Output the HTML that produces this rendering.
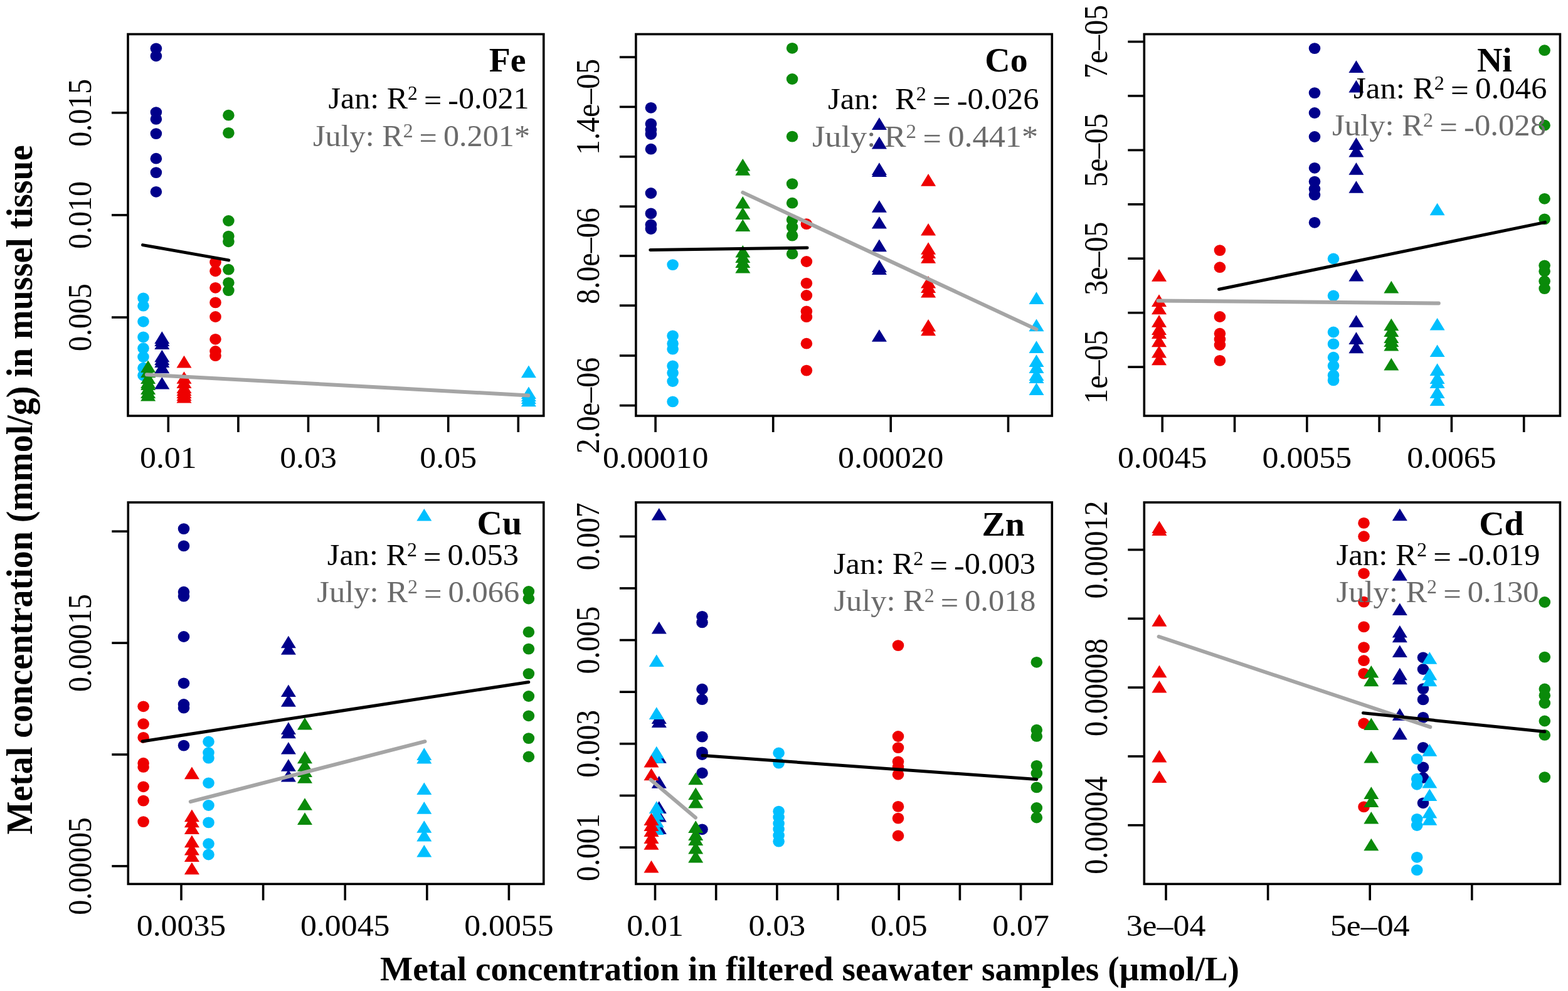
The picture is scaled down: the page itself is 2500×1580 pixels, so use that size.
<!DOCTYPE html>
<html><head><meta charset="utf-8"><title>Metal concentration plots</title><style>html,body{margin:0;padding:0;background:#fff;}svg{display:block;}text{font-family:"Liberation Serif", "Times New Roman", serif;font-kerning:none;font-feature-settings:"kern" 0,"liga" 0;}</style></head><body>
<svg width="2500" height="1580" viewBox="0 0 2500 1580">
<rect x="0" y="0" width="2500" height="1580" fill="#fff"/>
<ellipse cx="248.9" cy="77.3" rx="9.3" ry="8.9" fill="#00008B"/>
<ellipse cx="248.9" cy="89.3" rx="9.3" ry="8.9" fill="#00008B"/>
<ellipse cx="248.9" cy="179.1" rx="9.3" ry="8.9" fill="#00008B"/>
<ellipse cx="248.9" cy="189.9" rx="9.3" ry="8.9" fill="#00008B"/>
<ellipse cx="248.9" cy="213.1" rx="9.3" ry="8.9" fill="#00008B"/>
<ellipse cx="248.9" cy="252.7" rx="9.3" ry="8.9" fill="#00008B"/>
<ellipse cx="248.9" cy="275.1" rx="9.3" ry="8.9" fill="#00008B"/>
<ellipse cx="248.9" cy="305.8" rx="9.3" ry="8.9" fill="#00008B"/>
<ellipse cx="364.4" cy="183.7" rx="9.3" ry="8.9" fill="#0A8A0A"/>
<ellipse cx="364.4" cy="211.9" rx="9.3" ry="8.9" fill="#0A8A0A"/>
<ellipse cx="364.4" cy="352" rx="9.3" ry="8.9" fill="#0A8A0A"/>
<ellipse cx="364.4" cy="376.6" rx="9.3" ry="8.9" fill="#0A8A0A"/>
<ellipse cx="364.4" cy="385.3" rx="9.3" ry="8.9" fill="#0A8A0A"/>
<ellipse cx="364.4" cy="429.7" rx="9.3" ry="8.9" fill="#0A8A0A"/>
<ellipse cx="364.4" cy="450.8" rx="9.3" ry="8.9" fill="#0A8A0A"/>
<ellipse cx="364.4" cy="463.1" rx="9.3" ry="8.9" fill="#0A8A0A"/>
<ellipse cx="343.5" cy="418.1" rx="9.3" ry="8.9" fill="#EE0000"/>
<ellipse cx="343.5" cy="432.3" rx="9.3" ry="8.9" fill="#EE0000"/>
<ellipse cx="343.5" cy="458.8" rx="9.3" ry="8.9" fill="#EE0000"/>
<ellipse cx="343.5" cy="482.4" rx="9.3" ry="8.9" fill="#EE0000"/>
<ellipse cx="343.5" cy="505" rx="9.3" ry="8.9" fill="#EE0000"/>
<ellipse cx="343.5" cy="540.8" rx="9.3" ry="8.9" fill="#EE0000"/>
<ellipse cx="343.5" cy="560" rx="9.3" ry="8.9" fill="#EE0000"/>
<ellipse cx="343.5" cy="567.2" rx="9.3" ry="8.9" fill="#EE0000"/>
<ellipse cx="228.5" cy="475.4" rx="9.3" ry="8.9" fill="#00BFFF"/>
<ellipse cx="228.5" cy="487.7" rx="9.3" ry="8.9" fill="#00BFFF"/>
<ellipse cx="228.5" cy="512.8" rx="9.3" ry="8.9" fill="#00BFFF"/>
<ellipse cx="228.5" cy="537.4" rx="9.3" ry="8.9" fill="#00BFFF"/>
<ellipse cx="228.5" cy="555.2" rx="9.3" ry="8.9" fill="#00BFFF"/>
<ellipse cx="228.5" cy="569" rx="9.3" ry="8.9" fill="#00BFFF"/>
<ellipse cx="228.5" cy="586.7" rx="9.3" ry="8.9" fill="#00BFFF"/>
<ellipse cx="228.5" cy="598.5" rx="9.3" ry="8.9" fill="#00BFFF"/>
<polygon points="258.3,528.3 270.3,547.9 246.3,547.9" fill="#00008B"/>
<polygon points="258.3,532.3 270.3,551.9 246.3,551.9" fill="#00008B"/>
<polygon points="258.3,537.3 270.3,556.9 246.3,556.9" fill="#00008B"/>
<polygon points="258.3,557.7 270.3,577.3 246.3,577.3" fill="#00008B"/>
<polygon points="258.3,562.3 270.3,581.9 246.3,581.9" fill="#00008B"/>
<polygon points="258.3,566.3 270.3,585.9 246.3,585.9" fill="#00008B"/>
<polygon points="258.3,575.7 270.3,595.3 246.3,595.3" fill="#00008B"/>
<polygon points="258.3,601 270.3,620.6 246.3,620.6" fill="#00008B"/>
<polygon points="236.1,574.5 248.1,594.1 224.1,594.1" fill="#0A8A0A"/>
<polygon points="236.1,582.3 248.1,601.9 224.1,601.9" fill="#0A8A0A"/>
<polygon points="236.1,592.3 248.1,611.9 224.1,611.9" fill="#0A8A0A"/>
<polygon points="236.1,599.3 248.1,618.9 224.1,618.9" fill="#0A8A0A"/>
<polygon points="236.1,602.3 248.1,621.9 224.1,621.9" fill="#0A8A0A"/>
<polygon points="236.1,609.3 248.1,628.9 224.1,628.9" fill="#0A8A0A"/>
<polygon points="236.1,615.3 248.1,634.9 224.1,634.9" fill="#0A8A0A"/>
<polygon points="236.1,620 248.1,639.6 224.1,639.6" fill="#0A8A0A"/>
<polygon points="293.5,566.8 305.5,586.4 281.5,586.4" fill="#EE0000"/>
<polygon points="293.5,592.2 305.5,611.8 281.5,611.8" fill="#EE0000"/>
<polygon points="293.5,599.3 305.5,618.9 281.5,618.9" fill="#EE0000"/>
<polygon points="293.5,607.3 305.5,626.9 281.5,626.9" fill="#EE0000"/>
<polygon points="293.5,611.3 305.5,630.9 281.5,630.9" fill="#EE0000"/>
<polygon points="293.5,615.3 305.5,634.9 281.5,634.9" fill="#EE0000"/>
<polygon points="293.5,619.3 305.5,638.9 281.5,638.9" fill="#EE0000"/>
<polygon points="293.5,623 305.5,642.6 281.5,642.6" fill="#EE0000"/>
<polygon points="842.9,582.6 854.9,602.2 830.9,602.2" fill="#00BFFF"/>
<polygon points="842.9,616.5 854.9,636.1 830.9,636.1" fill="#00BFFF"/>
<polygon points="842.9,620.3 854.9,639.9 830.9,639.9" fill="#00BFFF"/>
<polygon points="842.9,624.3 854.9,643.9 830.9,643.9" fill="#00BFFF"/>
<polygon points="842.9,628.7 854.9,648.3 830.9,648.3" fill="#00BFFF"/>
<line x1="227.5" y1="390.6" x2="364.8" y2="414.9" stroke="#000" stroke-width="5.0" stroke-linecap="round"/>
<line x1="234" y1="597.3" x2="842.3" y2="630.5" stroke="#A5A5A5" stroke-width="6.0" stroke-linecap="round"/>
<rect x="204" y="54.5" width="662.8" height="608.5" fill="none" stroke="#000" stroke-width="3.6"/>
<line x1="178" y1="506" x2="204" y2="506" stroke="#000" stroke-width="3.6"/>
<text transform="translate(145,506) scale(1.08,1) rotate(-90)" text-anchor="middle" font-size="48">0.005</text>
<line x1="178" y1="342.9" x2="204" y2="342.9" stroke="#000" stroke-width="3.6"/>
<text transform="translate(145,342.9) scale(1.08,1) rotate(-90)" text-anchor="middle" font-size="48">0.010</text>
<line x1="178" y1="179.8" x2="204" y2="179.8" stroke="#000" stroke-width="3.6"/>
<text transform="translate(145,179.8) scale(1.08,1) rotate(-90)" text-anchor="middle" font-size="48">0.015</text>
<line x1="268.3" y1="663" x2="268.3" y2="689" stroke="#000" stroke-width="3.6"/>
<text transform="translate(268.3,746) scale(1.08,1)" text-anchor="middle" font-size="48">0.01</text>
<line x1="379.9" y1="663" x2="379.9" y2="689" stroke="#000" stroke-width="3.6"/>
<line x1="491.5" y1="663" x2="491.5" y2="689" stroke="#000" stroke-width="3.6"/>
<text transform="translate(491.5,746) scale(1.08,1)" text-anchor="middle" font-size="48">0.03</text>
<line x1="603.1" y1="663" x2="603.1" y2="689" stroke="#000" stroke-width="3.6"/>
<line x1="714.7" y1="663" x2="714.7" y2="689" stroke="#000" stroke-width="3.6"/>
<text transform="translate(714.7,746) scale(1.08,1)" text-anchor="middle" font-size="48">0.05</text>
<line x1="826.3" y1="663" x2="826.3" y2="689" stroke="#000" stroke-width="3.6"/>
<text transform="translate(838.6,113.7) scale(1.035,1)" text-anchor="end" font-weight="bold" font-size="54">Fe</text>
<text transform="translate(843.5,173.2)" text-anchor="end" textLength="320" lengthAdjust="spacingAndGlyphs" font-size="49" fill="#000">Jan: R<tspan font-size="31" dy="-14">2</tspan><tspan dy="17"> =</tspan><tspan dy="-3"> <tspan dy="3">-</tspan><tspan dy="-3">0.021</tspan></tspan></text>
<text transform="translate(845,232.8)" text-anchor="end" textLength="346" lengthAdjust="spacingAndGlyphs" font-size="49" fill="#6B6B6B">July: R<tspan font-size="31" dy="-14">2</tspan><tspan dy="17"> =</tspan><tspan dy="-3"> 0.201*</tspan></text>
<ellipse cx="1037.9" cy="171.8" rx="9.3" ry="8.9" fill="#00008B"/>
<ellipse cx="1037.9" cy="197.5" rx="9.3" ry="8.9" fill="#00008B"/>
<ellipse cx="1037.9" cy="207" rx="9.3" ry="8.9" fill="#00008B"/>
<ellipse cx="1037.9" cy="214" rx="9.3" ry="8.9" fill="#00008B"/>
<ellipse cx="1037.9" cy="237.7" rx="9.3" ry="8.9" fill="#00008B"/>
<ellipse cx="1037.9" cy="308" rx="9.3" ry="8.9" fill="#00008B"/>
<ellipse cx="1037.9" cy="340.4" rx="9.3" ry="8.9" fill="#00008B"/>
<ellipse cx="1037.9" cy="358.3" rx="9.3" ry="8.9" fill="#00008B"/>
<ellipse cx="1037.9" cy="365" rx="9.3" ry="8.9" fill="#00008B"/>
<ellipse cx="1263.1" cy="76.8" rx="9.3" ry="8.9" fill="#0A8A0A"/>
<ellipse cx="1263.1" cy="126" rx="9.3" ry="8.9" fill="#0A8A0A"/>
<ellipse cx="1263.1" cy="217.6" rx="9.3" ry="8.9" fill="#0A8A0A"/>
<ellipse cx="1263.1" cy="293.1" rx="9.3" ry="8.9" fill="#0A8A0A"/>
<ellipse cx="1263.1" cy="323.7" rx="9.3" ry="8.9" fill="#0A8A0A"/>
<ellipse cx="1263.1" cy="350.5" rx="9.3" ry="8.9" fill="#0A8A0A"/>
<ellipse cx="1263.1" cy="362" rx="9.3" ry="8.9" fill="#0A8A0A"/>
<ellipse cx="1263.1" cy="375.6" rx="9.3" ry="8.9" fill="#0A8A0A"/>
<ellipse cx="1263.1" cy="404.7" rx="9.3" ry="8.9" fill="#0A8A0A"/>
<ellipse cx="1285.9" cy="357.2" rx="9.3" ry="8.9" fill="#EE0000"/>
<ellipse cx="1285.9" cy="417" rx="9.3" ry="8.9" fill="#EE0000"/>
<ellipse cx="1285.9" cy="451.6" rx="9.3" ry="8.9" fill="#EE0000"/>
<ellipse cx="1285.9" cy="471" rx="9.3" ry="8.9" fill="#EE0000"/>
<ellipse cx="1285.9" cy="496.3" rx="9.3" ry="8.9" fill="#EE0000"/>
<ellipse cx="1285.9" cy="505.2" rx="9.3" ry="8.9" fill="#EE0000"/>
<ellipse cx="1285.9" cy="547.7" rx="9.3" ry="8.9" fill="#EE0000"/>
<ellipse cx="1285.9" cy="590.6" rx="9.3" ry="8.9" fill="#EE0000"/>
<ellipse cx="1072.6" cy="422.1" rx="9.3" ry="8.9" fill="#00BFFF"/>
<ellipse cx="1072.6" cy="535.4" rx="9.3" ry="8.9" fill="#00BFFF"/>
<ellipse cx="1072.6" cy="547.7" rx="9.3" ry="8.9" fill="#00BFFF"/>
<ellipse cx="1072.6" cy="556.6" rx="9.3" ry="8.9" fill="#00BFFF"/>
<ellipse cx="1072.6" cy="583.4" rx="9.3" ry="8.9" fill="#00BFFF"/>
<ellipse cx="1072.6" cy="594.6" rx="9.3" ry="8.9" fill="#00BFFF"/>
<ellipse cx="1072.6" cy="608" rx="9.3" ry="8.9" fill="#00BFFF"/>
<ellipse cx="1072.6" cy="640.4" rx="9.3" ry="8.9" fill="#00BFFF"/>
<polygon points="1401.9,187.3 1413.9,206.9 1389.9,206.9" fill="#00008B"/>
<polygon points="1401.9,217.8 1413.9,237.4 1389.9,237.4" fill="#00008B"/>
<polygon points="1401.9,259.3 1413.9,278.9 1389.9,278.9" fill="#00008B"/>
<polygon points="1401.9,262.3 1413.9,281.9 1389.9,281.9" fill="#00008B"/>
<polygon points="1401.9,319.2 1413.9,338.8 1389.9,338.8" fill="#00008B"/>
<polygon points="1401.9,344.9 1413.9,364.5 1389.9,364.5" fill="#00008B"/>
<polygon points="1401.9,381.6 1413.9,401.2 1389.9,401.2" fill="#00008B"/>
<polygon points="1401.9,414.3 1413.9,433.9 1389.9,433.9" fill="#00008B"/>
<polygon points="1401.9,418.3 1413.9,437.9 1389.9,437.9" fill="#00008B"/>
<polygon points="1401.9,525.2 1413.9,544.8 1389.9,544.8" fill="#00008B"/>
<polygon points="1184.3,252.9 1196.3,272.5 1172.3,272.5" fill="#0A8A0A"/>
<polygon points="1184.3,260.1 1196.3,279.7 1172.3,279.7" fill="#0A8A0A"/>
<polygon points="1184.3,312.9 1196.3,332.5 1172.3,332.5" fill="#0A8A0A"/>
<polygon points="1184.3,330.5 1196.3,350.1 1172.3,350.1" fill="#0A8A0A"/>
<polygon points="1184.3,349.5 1196.3,369.1 1172.3,369.1" fill="#0A8A0A"/>
<polygon points="1184.3,390.9 1196.3,410.5 1172.3,410.5" fill="#0A8A0A"/>
<polygon points="1184.3,399.3 1196.3,418.9 1172.3,418.9" fill="#0A8A0A"/>
<polygon points="1184.3,407.3 1196.3,426.9 1172.3,426.9" fill="#0A8A0A"/>
<polygon points="1184.3,415.9 1196.3,435.5 1172.3,435.5" fill="#0A8A0A"/>
<polygon points="1480.1,277.1 1492.1,296.7 1468.1,296.7" fill="#EE0000"/>
<polygon points="1480.1,355.9 1492.1,375.5 1468.1,375.5" fill="#EE0000"/>
<polygon points="1480.1,386.2 1492.1,405.8 1468.1,405.8" fill="#EE0000"/>
<polygon points="1480.1,392.3 1492.1,411.9 1468.1,411.9" fill="#EE0000"/>
<polygon points="1480.1,400.1 1492.1,419.7 1468.1,419.7" fill="#EE0000"/>
<polygon points="1480.1,440 1492.1,459.6 1468.1,459.6" fill="#EE0000"/>
<polygon points="1480.1,447.3 1492.1,466.9 1468.1,466.9" fill="#EE0000"/>
<polygon points="1480.1,455 1492.1,474.6 1468.1,474.6" fill="#EE0000"/>
<polygon points="1480.1,509 1492.1,528.6 1468.1,528.6" fill="#EE0000"/>
<polygon points="1480.1,515.7 1492.1,535.3 1468.1,535.3" fill="#EE0000"/>
<polygon points="1652.5,465.3 1664.5,484.9 1640.5,484.9" fill="#00BFFF"/>
<polygon points="1652.5,508.6 1664.5,528.2 1640.5,528.2" fill="#00BFFF"/>
<polygon points="1652.5,543.3 1664.5,562.9 1640.5,562.9" fill="#00BFFF"/>
<polygon points="1652.5,565.3 1664.5,584.9 1640.5,584.9" fill="#00BFFF"/>
<polygon points="1652.5,575.3 1664.5,594.9 1640.5,594.9" fill="#00BFFF"/>
<polygon points="1652.5,587.3 1664.5,606.9 1640.5,606.9" fill="#00BFFF"/>
<polygon points="1652.5,591.3 1664.5,610.9 1640.5,610.9" fill="#00BFFF"/>
<polygon points="1652.5,610.3 1664.5,629.9 1640.5,629.9" fill="#00BFFF"/>
<line x1="1036.8" y1="398.4" x2="1287" y2="395.1" stroke="#000" stroke-width="5.0" stroke-linecap="round"/>
<line x1="1184.3" y1="306.9" x2="1652.5" y2="525.1" stroke="#A5A5A5" stroke-width="6.0" stroke-linecap="round"/>
<rect x="1013.9" y="54.5" width="663.4" height="608.5" fill="none" stroke="#000" stroke-width="3.6"/>
<line x1="987.9" y1="91.1" x2="1013.9" y2="91.1" stroke="#000" stroke-width="3.6"/>
<line x1="987.9" y1="170.4" x2="1013.9" y2="170.4" stroke="#000" stroke-width="3.6"/>
<text transform="translate(954.9,170.4) scale(1.08,1) rotate(-90)" text-anchor="middle" font-size="48">1.4e–05</text>
<line x1="987.9" y1="249.8" x2="1013.9" y2="249.8" stroke="#000" stroke-width="3.6"/>
<line x1="987.9" y1="329.2" x2="1013.9" y2="329.2" stroke="#000" stroke-width="3.6"/>
<line x1="987.9" y1="408" x2="1013.9" y2="408" stroke="#000" stroke-width="3.6"/>
<text transform="translate(954.9,408) scale(1.08,1) rotate(-90)" text-anchor="middle" font-size="48">8.0e–06</text>
<line x1="987.9" y1="487.1" x2="1013.9" y2="487.1" stroke="#000" stroke-width="3.6"/>
<line x1="987.9" y1="567" x2="1013.9" y2="567" stroke="#000" stroke-width="3.6"/>
<line x1="987.9" y1="646.5" x2="1013.9" y2="646.5" stroke="#000" stroke-width="3.6"/>
<text transform="translate(954.9,646.5) scale(1.08,1) rotate(-90)" text-anchor="middle" font-size="48">2.0e–06</text>
<line x1="1045.1" y1="663" x2="1045.1" y2="689" stroke="#000" stroke-width="3.6"/>
<text transform="translate(1045.1,746) scale(1.08,1)" text-anchor="middle" font-size="48">0.00010</text>
<line x1="1232.7" y1="663" x2="1232.7" y2="689" stroke="#000" stroke-width="3.6"/>
<line x1="1420.2" y1="663" x2="1420.2" y2="689" stroke="#000" stroke-width="3.6"/>
<text transform="translate(1420.2,746) scale(1.08,1)" text-anchor="middle" font-size="48">0.00020</text>
<line x1="1607.5" y1="663" x2="1607.5" y2="689" stroke="#000" stroke-width="3.6"/>
<text transform="translate(1638.6,113.7) scale(1.035,1)" text-anchor="end" font-weight="bold" font-size="54">Co</text>
<text transform="translate(1656.5,174)" text-anchor="end" textLength="336.5" lengthAdjust="spacingAndGlyphs" font-size="49" fill="#000">Jan: R<tspan font-size="31" dy="-14">2</tspan><tspan dy="17"> =</tspan><tspan dy="-3"> <tspan dy="3">-</tspan><tspan dy="-3">0.026</tspan></tspan></text>
<text transform="translate(1655,233.6)" text-anchor="end" textLength="360" lengthAdjust="spacingAndGlyphs" font-size="49" fill="#6B6B6B">July: R<tspan font-size="31" dy="-14">2</tspan><tspan dy="17"> =</tspan><tspan dy="-3"> 0.441*</tspan></text>
<ellipse cx="2096" cy="77.1" rx="9.3" ry="8.9" fill="#00008B"/>
<ellipse cx="2096" cy="148.1" rx="9.3" ry="8.9" fill="#00008B"/>
<ellipse cx="2096" cy="180" rx="9.3" ry="8.9" fill="#00008B"/>
<ellipse cx="2096" cy="218" rx="9.3" ry="8.9" fill="#00008B"/>
<ellipse cx="2096" cy="267.8" rx="9.3" ry="8.9" fill="#00008B"/>
<ellipse cx="2096" cy="289.6" rx="9.3" ry="8.9" fill="#00008B"/>
<ellipse cx="2096" cy="301.2" rx="9.3" ry="8.9" fill="#00008B"/>
<ellipse cx="2096" cy="310.6" rx="9.3" ry="8.9" fill="#00008B"/>
<ellipse cx="2096" cy="354.8" rx="9.3" ry="8.9" fill="#00008B"/>
<ellipse cx="2462.6" cy="80.2" rx="9.3" ry="8.9" fill="#0A8A0A"/>
<ellipse cx="2462.6" cy="199.7" rx="9.3" ry="8.9" fill="#0A8A0A"/>
<ellipse cx="2462.6" cy="316.8" rx="9.3" ry="8.9" fill="#0A8A0A"/>
<ellipse cx="2462.6" cy="349.4" rx="9.3" ry="8.9" fill="#0A8A0A"/>
<ellipse cx="2462.6" cy="423.3" rx="9.3" ry="8.9" fill="#0A8A0A"/>
<ellipse cx="2462.6" cy="432.5" rx="9.3" ry="8.9" fill="#0A8A0A"/>
<ellipse cx="2462.6" cy="448.2" rx="9.3" ry="8.9" fill="#0A8A0A"/>
<ellipse cx="2462.6" cy="460.1" rx="9.3" ry="8.9" fill="#0A8A0A"/>
<ellipse cx="1944.9" cy="399.1" rx="9.3" ry="8.9" fill="#EE0000"/>
<ellipse cx="1944.9" cy="426.2" rx="9.3" ry="8.9" fill="#EE0000"/>
<ellipse cx="1944.9" cy="505" rx="9.3" ry="8.9" fill="#EE0000"/>
<ellipse cx="1944.9" cy="531.7" rx="9.3" ry="8.9" fill="#EE0000"/>
<ellipse cx="1944.9" cy="541" rx="9.3" ry="8.9" fill="#EE0000"/>
<ellipse cx="1944.9" cy="550" rx="9.3" ry="8.9" fill="#EE0000"/>
<ellipse cx="1944.9" cy="574.9" rx="9.3" ry="8.9" fill="#EE0000"/>
<ellipse cx="2126" cy="412.5" rx="9.3" ry="8.9" fill="#00BFFF"/>
<ellipse cx="2126" cy="471.5" rx="9.3" ry="8.9" fill="#00BFFF"/>
<ellipse cx="2126" cy="529.5" rx="9.3" ry="8.9" fill="#00BFFF"/>
<ellipse cx="2126" cy="548.4" rx="9.3" ry="8.9" fill="#00BFFF"/>
<ellipse cx="2126" cy="569.7" rx="9.3" ry="8.9" fill="#00BFFF"/>
<ellipse cx="2126" cy="583.2" rx="9.3" ry="8.9" fill="#00BFFF"/>
<ellipse cx="2126" cy="598.2" rx="9.3" ry="8.9" fill="#00BFFF"/>
<ellipse cx="2126" cy="606.4" rx="9.3" ry="8.9" fill="#00BFFF"/>
<polygon points="2162.4,96.3 2174.4,115.9 2150.4,115.9" fill="#00008B"/>
<polygon points="2162.4,127.8 2174.4,147.4 2150.4,147.4" fill="#00008B"/>
<polygon points="2162.4,219.3 2174.4,238.9 2150.4,238.9" fill="#00008B"/>
<polygon points="2162.4,230.8 2174.4,250.4 2150.4,250.4" fill="#00008B"/>
<polygon points="2162.4,259.1 2174.4,278.7 2150.4,278.7" fill="#00008B"/>
<polygon points="2162.4,288.2 2174.4,307.8 2150.4,307.8" fill="#00008B"/>
<polygon points="2162.4,428.9 2174.4,448.5 2150.4,448.5" fill="#00008B"/>
<polygon points="2162.4,502.2 2174.4,521.8 2150.4,521.8" fill="#00008B"/>
<polygon points="2162.4,529.3 2174.4,548.9 2150.4,548.9" fill="#00008B"/>
<polygon points="2162.4,543.6 2174.4,563.2 2150.4,563.2" fill="#00008B"/>
<polygon points="2218.3,447.8 2230.3,467.4 2206.3,467.4" fill="#0A8A0A"/>
<polygon points="2218.3,507.7 2230.3,527.3 2206.3,527.3" fill="#0A8A0A"/>
<polygon points="2218.3,517.3 2230.3,536.9 2206.3,536.9" fill="#0A8A0A"/>
<polygon points="2218.3,527.3 2230.3,546.9 2206.3,546.9" fill="#0A8A0A"/>
<polygon points="2218.3,533.3 2230.3,552.9 2206.3,552.9" fill="#0A8A0A"/>
<polygon points="2218.3,540 2230.3,559.6 2206.3,559.6" fill="#0A8A0A"/>
<polygon points="2218.3,570.8 2230.3,590.4 2206.3,590.4" fill="#0A8A0A"/>
<polygon points="1848,429.1 1860,448.7 1836,448.7" fill="#EE0000"/>
<polygon points="1848,469.3 1860,488.9 1836,488.9" fill="#EE0000"/>
<polygon points="1848,481.7 1860,501.3 1836,501.3" fill="#EE0000"/>
<polygon points="1848,502.1 1860,521.7 1836,521.7" fill="#EE0000"/>
<polygon points="1848,514.3 1860,533.9 1836,533.9" fill="#EE0000"/>
<polygon points="1848,520.3 1860,539.9 1836,539.9" fill="#EE0000"/>
<polygon points="1848,533.6 1860,553.2 1836,553.2" fill="#EE0000"/>
<polygon points="1848,550.9 1860,570.5 1836,570.5" fill="#EE0000"/>
<polygon points="1848,562.7 1860,582.3 1836,582.3" fill="#EE0000"/>
<polygon points="2291.6,323.7 2303.6,343.3 2279.6,343.3" fill="#00BFFF"/>
<polygon points="2291.6,506.9 2303.6,526.5 2279.6,526.5" fill="#00BFFF"/>
<polygon points="2291.6,549.5 2303.6,569.1 2279.6,569.1" fill="#00BFFF"/>
<polygon points="2291.6,579.3 2303.6,598.9 2279.6,598.9" fill="#00BFFF"/>
<polygon points="2291.6,592.3 2303.6,611.9 2279.6,611.9" fill="#00BFFF"/>
<polygon points="2291.6,599.3 2303.6,618.9 2279.6,618.9" fill="#00BFFF"/>
<polygon points="2291.6,615.3 2303.6,634.9 2279.6,634.9" fill="#00BFFF"/>
<polygon points="2291.6,627.5 2303.6,647.1 2279.6,647.1" fill="#00BFFF"/>
<line x1="1943.5" y1="461.3" x2="2463.5" y2="354.4" stroke="#000" stroke-width="5.0" stroke-linecap="round"/>
<line x1="1846.5" y1="479.4" x2="2293.8" y2="483.5" stroke="#A5A5A5" stroke-width="6.0" stroke-linecap="round"/>
<rect x="1824.3" y="54.5" width="663.1" height="608.5" fill="none" stroke="#000" stroke-width="3.6"/>
<line x1="1798.3" y1="66.5" x2="1824.3" y2="66.5" stroke="#000" stroke-width="3.6"/>
<text transform="translate(1765.3,66.5) scale(1.08,1) rotate(-90)" text-anchor="middle" font-size="48">7e–05</text>
<line x1="1798.3" y1="152.9" x2="1824.3" y2="152.9" stroke="#000" stroke-width="3.6"/>
<line x1="1798.3" y1="239.4" x2="1824.3" y2="239.4" stroke="#000" stroke-width="3.6"/>
<text transform="translate(1765.3,239.4) scale(1.08,1) rotate(-90)" text-anchor="middle" font-size="48">5e–05</text>
<line x1="1798.3" y1="325.8" x2="1824.3" y2="325.8" stroke="#000" stroke-width="3.6"/>
<line x1="1798.3" y1="412.2" x2="1824.3" y2="412.2" stroke="#000" stroke-width="3.6"/>
<text transform="translate(1765.3,412.2) scale(1.08,1) rotate(-90)" text-anchor="middle" font-size="48">3e–05</text>
<line x1="1798.3" y1="498.7" x2="1824.3" y2="498.7" stroke="#000" stroke-width="3.6"/>
<line x1="1798.3" y1="585.1" x2="1824.3" y2="585.1" stroke="#000" stroke-width="3.6"/>
<text transform="translate(1765.3,585.1) scale(1.08,1) rotate(-90)" text-anchor="middle" font-size="48">1e–05</text>
<line x1="1853.2" y1="663" x2="1853.2" y2="689" stroke="#000" stroke-width="3.6"/>
<text transform="translate(1853.2,746) scale(1.08,1)" text-anchor="middle" font-size="48">0.0045</text>
<line x1="1968.5" y1="663" x2="1968.5" y2="689" stroke="#000" stroke-width="3.6"/>
<line x1="2083.8" y1="663" x2="2083.8" y2="689" stroke="#000" stroke-width="3.6"/>
<text transform="translate(2083.8,746) scale(1.08,1)" text-anchor="middle" font-size="48">0.0055</text>
<line x1="2199.1" y1="663" x2="2199.1" y2="689" stroke="#000" stroke-width="3.6"/>
<line x1="2314.4" y1="663" x2="2314.4" y2="689" stroke="#000" stroke-width="3.6"/>
<text transform="translate(2314.4,746) scale(1.08,1)" text-anchor="middle" font-size="48">0.0065</text>
<line x1="2429.7" y1="663" x2="2429.7" y2="689" stroke="#000" stroke-width="3.6"/>
<text transform="translate(2410.8,113.7) scale(1.035,1)" text-anchor="end" font-weight="bold" font-size="54">Ni</text>
<text transform="translate(2466.5,157.2)" text-anchor="end" textLength="308.5" lengthAdjust="spacingAndGlyphs" font-size="49" fill="#000">Jan: R<tspan font-size="31" dy="-14">2</tspan><tspan dy="17"> =</tspan><tspan dy="-3"> 0.046</tspan></text>
<text transform="translate(2465,216.1)" text-anchor="end" textLength="341" lengthAdjust="spacingAndGlyphs" font-size="49" fill="#6B6B6B">July: R<tspan font-size="31" dy="-14">2</tspan><tspan dy="17"> =</tspan><tspan dy="-3"> <tspan dy="3">-</tspan><tspan dy="-3">0.028</tspan></tspan></text>
<ellipse cx="228.6" cy="1126.3" rx="9.3" ry="8.9" fill="#EE0000"/>
<ellipse cx="228.6" cy="1154.2" rx="9.3" ry="8.9" fill="#EE0000"/>
<ellipse cx="228.6" cy="1175.8" rx="9.3" ry="8.9" fill="#EE0000"/>
<ellipse cx="228.6" cy="1216.7" rx="9.3" ry="8.9" fill="#EE0000"/>
<ellipse cx="228.6" cy="1222.9" rx="9.3" ry="8.9" fill="#EE0000"/>
<ellipse cx="228.6" cy="1254.3" rx="9.3" ry="8.9" fill="#EE0000"/>
<ellipse cx="228.6" cy="1276.6" rx="9.3" ry="8.9" fill="#EE0000"/>
<ellipse cx="228.6" cy="1310.1" rx="9.3" ry="8.9" fill="#EE0000"/>
<ellipse cx="293" cy="843.1" rx="9.3" ry="8.9" fill="#00008B"/>
<ellipse cx="293" cy="870.4" rx="9.3" ry="8.9" fill="#00008B"/>
<ellipse cx="293" cy="943.7" rx="9.3" ry="8.9" fill="#00008B"/>
<ellipse cx="293" cy="950.6" rx="9.3" ry="8.9" fill="#00008B"/>
<ellipse cx="293" cy="1015" rx="9.3" ry="8.9" fill="#00008B"/>
<ellipse cx="293" cy="1089.3" rx="9.3" ry="8.9" fill="#00008B"/>
<ellipse cx="293" cy="1123" rx="9.3" ry="8.9" fill="#00008B"/>
<ellipse cx="293" cy="1128.7" rx="9.3" ry="8.9" fill="#00008B"/>
<ellipse cx="293" cy="1188.6" rx="9.3" ry="8.9" fill="#00008B"/>
<ellipse cx="332.5" cy="1182.5" rx="9.3" ry="8.9" fill="#00BFFF"/>
<ellipse cx="332.5" cy="1200" rx="9.3" ry="8.9" fill="#00BFFF"/>
<ellipse cx="332.5" cy="1208.6" rx="9.3" ry="8.9" fill="#00BFFF"/>
<ellipse cx="332.5" cy="1248.3" rx="9.3" ry="8.9" fill="#00BFFF"/>
<ellipse cx="332.5" cy="1284" rx="9.3" ry="8.9" fill="#00BFFF"/>
<ellipse cx="332.5" cy="1311.4" rx="9.3" ry="8.9" fill="#00BFFF"/>
<ellipse cx="332.5" cy="1345.2" rx="9.3" ry="8.9" fill="#00BFFF"/>
<ellipse cx="332.5" cy="1362.5" rx="9.3" ry="8.9" fill="#00BFFF"/>
<ellipse cx="842.9" cy="943" rx="9.3" ry="8.9" fill="#0A8A0A"/>
<ellipse cx="842.9" cy="954.5" rx="9.3" ry="8.9" fill="#0A8A0A"/>
<ellipse cx="842.9" cy="1007.7" rx="9.3" ry="8.9" fill="#0A8A0A"/>
<ellipse cx="842.9" cy="1034.6" rx="9.3" ry="8.9" fill="#0A8A0A"/>
<ellipse cx="842.9" cy="1074.1" rx="9.3" ry="8.9" fill="#0A8A0A"/>
<ellipse cx="842.9" cy="1110" rx="9.3" ry="8.9" fill="#0A8A0A"/>
<ellipse cx="842.9" cy="1141.3" rx="9.3" ry="8.9" fill="#0A8A0A"/>
<ellipse cx="842.9" cy="1177.1" rx="9.3" ry="8.9" fill="#0A8A0A"/>
<ellipse cx="842.9" cy="1206.5" rx="9.3" ry="8.9" fill="#0A8A0A"/>
<polygon points="305.9,1222.6 317.9,1242.2 293.9,1242.2" fill="#EE0000"/>
<polygon points="305.9,1290.6 317.9,1310.2 293.9,1310.2" fill="#EE0000"/>
<polygon points="305.9,1299.7 317.9,1319.3 293.9,1319.3" fill="#EE0000"/>
<polygon points="305.9,1310.3 317.9,1329.9 293.9,1329.9" fill="#EE0000"/>
<polygon points="305.9,1331.6 317.9,1351.2 293.9,1351.2" fill="#EE0000"/>
<polygon points="305.9,1343.9 317.9,1363.5 293.9,1363.5" fill="#EE0000"/>
<polygon points="305.9,1354.4 317.9,1374 293.9,1374" fill="#EE0000"/>
<polygon points="305.9,1374.7 317.9,1394.3 293.9,1394.3" fill="#EE0000"/>
<polygon points="459.9,1013.7 471.9,1033.3 447.9,1033.3" fill="#00008B"/>
<polygon points="459.9,1024.2 471.9,1043.8 447.9,1043.8" fill="#00008B"/>
<polygon points="459.9,1091.4 471.9,1111 447.9,1111" fill="#00008B"/>
<polygon points="459.9,1107.2 471.9,1126.8 447.9,1126.8" fill="#00008B"/>
<polygon points="459.9,1151.3 471.9,1170.9 447.9,1170.9" fill="#00008B"/>
<polygon points="459.9,1157.6 471.9,1177.2 447.9,1177.2" fill="#00008B"/>
<polygon points="459.9,1182.9 471.9,1202.5 447.9,1202.5" fill="#00008B"/>
<polygon points="459.9,1210.2 471.9,1229.8 447.9,1229.8" fill="#00008B"/>
<polygon points="459.9,1227 471.9,1246.6 447.9,1246.6" fill="#00008B"/>
<polygon points="486,1144 498,1163.6 474,1163.6" fill="#0A8A0A"/>
<polygon points="486,1197.6 498,1217.2 474,1217.2" fill="#0A8A0A"/>
<polygon points="486,1210.2 498,1229.8 474,1229.8" fill="#0A8A0A"/>
<polygon points="486,1219.3 498,1238.9 474,1238.9" fill="#0A8A0A"/>
<polygon points="486,1229.1 498,1248.7 474,1248.7" fill="#0A8A0A"/>
<polygon points="486,1272.2 498,1291.8 474,1291.8" fill="#0A8A0A"/>
<polygon points="486,1295.3 498,1314.9 474,1314.9" fill="#0A8A0A"/>
<polygon points="676.3,811 688.3,830.6 664.3,830.6" fill="#00BFFF"/>
<polygon points="676.3,1192.3 688.3,1211.9 664.3,1211.9" fill="#00BFFF"/>
<polygon points="676.3,1197.8 688.3,1217.4 664.3,1217.4" fill="#00BFFF"/>
<polygon points="676.3,1247.4 688.3,1267 664.3,1267" fill="#00BFFF"/>
<polygon points="676.3,1278.1 688.3,1297.7 664.3,1297.7" fill="#00BFFF"/>
<polygon points="676.3,1308.2 688.3,1327.8 664.3,1327.8" fill="#00BFFF"/>
<polygon points="676.3,1321.8 688.3,1341.4 664.3,1341.4" fill="#00BFFF"/>
<polygon points="676.3,1346.9 688.3,1366.5 664.3,1366.5" fill="#00BFFF"/>
<line x1="227.1" y1="1182" x2="842.8" y2="1087.5" stroke="#000" stroke-width="5.0" stroke-linecap="round"/>
<line x1="303.8" y1="1278.1" x2="677.5" y2="1182.2" stroke="#A5A5A5" stroke-width="6.0" stroke-linecap="round"/>
<rect x="204.3" y="801" width="662.5" height="608.4" fill="none" stroke="#000" stroke-width="3.6"/>
<line x1="178.3" y1="847.2" x2="204.3" y2="847.2" stroke="#000" stroke-width="3.6"/>
<line x1="178.3" y1="1025.1" x2="204.3" y2="1025.1" stroke="#000" stroke-width="3.6"/>
<text transform="translate(145.3,1025.1) scale(1.08,1) rotate(-90)" text-anchor="middle" font-size="48">0.00015</text>
<line x1="178.3" y1="1203" x2="204.3" y2="1203" stroke="#000" stroke-width="3.6"/>
<line x1="178.3" y1="1380.9" x2="204.3" y2="1380.9" stroke="#000" stroke-width="3.6"/>
<text transform="translate(145.3,1380.9) scale(1.08,1) rotate(-90)" text-anchor="middle" font-size="48">0.00005</text>
<line x1="289" y1="1409.4" x2="289" y2="1435.4" stroke="#000" stroke-width="3.6"/>
<text transform="translate(289,1492.4) scale(1.08,1)" text-anchor="middle" font-size="48">0.0035</text>
<line x1="419.6" y1="1409.4" x2="419.6" y2="1435.4" stroke="#000" stroke-width="3.6"/>
<line x1="550.2" y1="1409.4" x2="550.2" y2="1435.4" stroke="#000" stroke-width="3.6"/>
<text transform="translate(550.2,1492.4) scale(1.08,1)" text-anchor="middle" font-size="48">0.0045</text>
<line x1="680.8" y1="1409.4" x2="680.8" y2="1435.4" stroke="#000" stroke-width="3.6"/>
<line x1="811.4" y1="1409.4" x2="811.4" y2="1435.4" stroke="#000" stroke-width="3.6"/>
<text transform="translate(811.4,1492.4) scale(1.08,1)" text-anchor="middle" font-size="48">0.0055</text>
<text transform="translate(832,852) scale(1.035,1)" text-anchor="end" font-weight="bold" font-size="54">Cu</text>
<text transform="translate(826.8,901.3)" text-anchor="end" textLength="305" lengthAdjust="spacingAndGlyphs" font-size="49" fill="#000">Jan: R<tspan font-size="31" dy="-14">2</tspan><tspan dy="17"> =</tspan><tspan dy="-3"> 0.053</tspan></text>
<text transform="translate(828.3,960.3)" text-anchor="end" textLength="323" lengthAdjust="spacingAndGlyphs" font-size="49" fill="#6B6B6B">July: R<tspan font-size="31" dy="-14">2</tspan><tspan dy="17"> =</tspan><tspan dy="-3"> 0.066</tspan></text>
<ellipse cx="1119.5" cy="982.8" rx="9.3" ry="8.9" fill="#00008B"/>
<ellipse cx="1119.5" cy="992.4" rx="9.3" ry="8.9" fill="#00008B"/>
<ellipse cx="1119.5" cy="1098.7" rx="9.3" ry="8.9" fill="#00008B"/>
<ellipse cx="1119.5" cy="1115.2" rx="9.3" ry="8.9" fill="#00008B"/>
<ellipse cx="1119.5" cy="1174.6" rx="9.3" ry="8.9" fill="#00008B"/>
<ellipse cx="1119.5" cy="1199.4" rx="9.3" ry="8.9" fill="#00008B"/>
<ellipse cx="1119.5" cy="1203" rx="9.3" ry="8.9" fill="#00008B"/>
<ellipse cx="1119.5" cy="1232.5" rx="9.3" ry="8.9" fill="#00008B"/>
<ellipse cx="1119.5" cy="1322.3" rx="9.3" ry="8.9" fill="#00008B"/>
<ellipse cx="1241.6" cy="1200.5" rx="9.3" ry="8.9" fill="#00BFFF"/>
<ellipse cx="1241.6" cy="1216.6" rx="9.3" ry="8.9" fill="#00BFFF"/>
<ellipse cx="1241.6" cy="1293.6" rx="9.3" ry="8.9" fill="#00BFFF"/>
<ellipse cx="1241.6" cy="1303" rx="9.3" ry="8.9" fill="#00BFFF"/>
<ellipse cx="1241.6" cy="1313" rx="9.3" ry="8.9" fill="#00BFFF"/>
<ellipse cx="1241.6" cy="1322" rx="9.3" ry="8.9" fill="#00BFFF"/>
<ellipse cx="1241.6" cy="1332" rx="9.3" ry="8.9" fill="#00BFFF"/>
<ellipse cx="1241.6" cy="1341.6" rx="9.3" ry="8.9" fill="#00BFFF"/>
<ellipse cx="1432" cy="1029.1" rx="9.3" ry="8.9" fill="#EE0000"/>
<ellipse cx="1432" cy="1174" rx="9.3" ry="8.9" fill="#EE0000"/>
<ellipse cx="1432" cy="1192.1" rx="9.3" ry="8.9" fill="#EE0000"/>
<ellipse cx="1432" cy="1214.3" rx="9.3" ry="8.9" fill="#EE0000"/>
<ellipse cx="1432" cy="1223.1" rx="9.3" ry="8.9" fill="#EE0000"/>
<ellipse cx="1432" cy="1234.7" rx="9.3" ry="8.9" fill="#EE0000"/>
<ellipse cx="1432" cy="1285.9" rx="9.3" ry="8.9" fill="#EE0000"/>
<ellipse cx="1432" cy="1304.6" rx="9.3" ry="8.9" fill="#EE0000"/>
<ellipse cx="1432" cy="1332.5" rx="9.3" ry="8.9" fill="#EE0000"/>
<ellipse cx="1652.8" cy="1055.8" rx="9.3" ry="8.9" fill="#0A8A0A"/>
<ellipse cx="1652.8" cy="1163.7" rx="9.3" ry="8.9" fill="#0A8A0A"/>
<ellipse cx="1652.8" cy="1173.9" rx="9.3" ry="8.9" fill="#0A8A0A"/>
<ellipse cx="1652.8" cy="1220.8" rx="9.3" ry="8.9" fill="#0A8A0A"/>
<ellipse cx="1652.8" cy="1233" rx="9.3" ry="8.9" fill="#0A8A0A"/>
<ellipse cx="1652.8" cy="1255.4" rx="9.3" ry="8.9" fill="#0A8A0A"/>
<ellipse cx="1652.8" cy="1288" rx="9.3" ry="8.9" fill="#0A8A0A"/>
<ellipse cx="1652.8" cy="1303.5" rx="9.3" ry="8.9" fill="#0A8A0A"/>
<polygon points="1050.8,810 1062.8,829.6 1038.8,829.6" fill="#00008B"/>
<polygon points="1050.8,990.9 1062.8,1010.5 1038.8,1010.5" fill="#00008B"/>
<polygon points="1050.8,1134.3 1062.8,1153.9 1038.8,1153.9" fill="#00008B"/>
<polygon points="1050.8,1140.5 1062.8,1160.1 1038.8,1160.1" fill="#00008B"/>
<polygon points="1050.8,1197.1 1062.8,1216.7 1038.8,1216.7" fill="#00008B"/>
<polygon points="1050.8,1237.1 1062.8,1256.7 1038.8,1256.7" fill="#00008B"/>
<polygon points="1050.8,1277.3 1062.8,1296.9 1038.8,1296.9" fill="#00008B"/>
<polygon points="1050.8,1290.9 1062.8,1310.5 1038.8,1310.5" fill="#00008B"/>
<polygon points="1050.8,1310.3 1062.8,1329.9 1038.8,1329.9" fill="#00008B"/>
<polygon points="1046.8,1043.5 1058.8,1063.1 1034.8,1063.1" fill="#00BFFF"/>
<polygon points="1046.8,1127.3 1058.8,1146.9 1034.8,1146.9" fill="#00BFFF"/>
<polygon points="1046.8,1189.7 1058.8,1209.3 1034.8,1209.3" fill="#00BFFF"/>
<polygon points="1046.8,1197.1 1058.8,1216.7 1034.8,1216.7" fill="#00BFFF"/>
<polygon points="1046.8,1277.3 1058.8,1296.9 1034.8,1296.9" fill="#00BFFF"/>
<polygon points="1046.8,1287.3 1058.8,1306.9 1034.8,1306.9" fill="#00BFFF"/>
<polygon points="1046.8,1299.7 1058.8,1319.3 1034.8,1319.3" fill="#00BFFF"/>
<polygon points="1046.8,1311.3 1058.8,1330.9 1034.8,1330.9" fill="#00BFFF"/>
<polygon points="1038.5,1204 1050.5,1223.6 1026.5,1223.6" fill="#EE0000"/>
<polygon points="1038.5,1224.7 1050.5,1244.3 1026.5,1244.3" fill="#EE0000"/>
<polygon points="1038.5,1296.3 1050.5,1315.9 1026.5,1315.9" fill="#EE0000"/>
<polygon points="1038.5,1305.3 1050.5,1324.9 1026.5,1324.9" fill="#EE0000"/>
<polygon points="1038.5,1314.3 1050.5,1333.9 1026.5,1333.9" fill="#EE0000"/>
<polygon points="1038.5,1325.3 1050.5,1344.9 1026.5,1344.9" fill="#EE0000"/>
<polygon points="1038.5,1335.1 1050.5,1354.7 1026.5,1354.7" fill="#EE0000"/>
<polygon points="1038.5,1371.8 1050.5,1391.4 1026.5,1391.4" fill="#EE0000"/>
<polygon points="1109.2,1231.6 1121.2,1251.2 1097.2,1251.2" fill="#0A8A0A"/>
<polygon points="1109.2,1255.6 1121.2,1275.2 1097.2,1275.2" fill="#0A8A0A"/>
<polygon points="1109.2,1268.9 1121.2,1288.5 1097.2,1288.5" fill="#0A8A0A"/>
<polygon points="1109.2,1308.3 1121.2,1327.9 1097.2,1327.9" fill="#0A8A0A"/>
<polygon points="1109.2,1320.3 1121.2,1339.9 1097.2,1339.9" fill="#0A8A0A"/>
<polygon points="1109.2,1328.3 1121.2,1347.9 1097.2,1347.9" fill="#0A8A0A"/>
<polygon points="1109.2,1342 1121.2,1361.6 1097.2,1361.6" fill="#0A8A0A"/>
<polygon points="1109.2,1355.8 1121.2,1375.4 1097.2,1375.4" fill="#0A8A0A"/>
<line x1="1119.9" y1="1204.5" x2="1652.8" y2="1242.4" stroke="#000" stroke-width="5.0" stroke-linecap="round"/>
<line x1="1037.6" y1="1243.2" x2="1108.9" y2="1303.5" stroke="#A5A5A5" stroke-width="6.0" stroke-linecap="round"/>
<rect x="1013.9" y="801" width="663.4" height="608.4" fill="none" stroke="#000" stroke-width="3.6"/>
<line x1="987.9" y1="855.3" x2="1013.9" y2="855.3" stroke="#000" stroke-width="3.6"/>
<text transform="translate(954.9,855.3) scale(1.08,1) rotate(-90)" text-anchor="middle" font-size="48">0.007</text>
<line x1="987.9" y1="937.93" x2="1013.9" y2="937.93" stroke="#000" stroke-width="3.6"/>
<line x1="987.9" y1="1020.56" x2="1013.9" y2="1020.56" stroke="#000" stroke-width="3.6"/>
<text transform="translate(954.9,1020.56) scale(1.08,1) rotate(-90)" text-anchor="middle" font-size="48">0.005</text>
<line x1="987.9" y1="1103.19" x2="1013.9" y2="1103.19" stroke="#000" stroke-width="3.6"/>
<line x1="987.9" y1="1185.82" x2="1013.9" y2="1185.82" stroke="#000" stroke-width="3.6"/>
<text transform="translate(954.9,1185.82) scale(1.08,1) rotate(-90)" text-anchor="middle" font-size="48">0.003</text>
<line x1="987.9" y1="1268.45" x2="1013.9" y2="1268.45" stroke="#000" stroke-width="3.6"/>
<line x1="987.9" y1="1351.08" x2="1013.9" y2="1351.08" stroke="#000" stroke-width="3.6"/>
<text transform="translate(954.9,1351.08) scale(1.08,1) rotate(-90)" text-anchor="middle" font-size="48">0.001</text>
<line x1="1044.5" y1="1409.4" x2="1044.5" y2="1435.4" stroke="#000" stroke-width="3.6"/>
<text transform="translate(1044.5,1492.4) scale(1.08,1)" text-anchor="middle" font-size="48">0.01</text>
<line x1="1141.68" y1="1409.4" x2="1141.68" y2="1435.4" stroke="#000" stroke-width="3.6"/>
<line x1="1238.86" y1="1409.4" x2="1238.86" y2="1435.4" stroke="#000" stroke-width="3.6"/>
<text transform="translate(1238.86,1492.4) scale(1.08,1)" text-anchor="middle" font-size="48">0.03</text>
<line x1="1336.04" y1="1409.4" x2="1336.04" y2="1435.4" stroke="#000" stroke-width="3.6"/>
<line x1="1433.22" y1="1409.4" x2="1433.22" y2="1435.4" stroke="#000" stroke-width="3.6"/>
<text transform="translate(1433.22,1492.4) scale(1.08,1)" text-anchor="middle" font-size="48">0.05</text>
<line x1="1530.4" y1="1409.4" x2="1530.4" y2="1435.4" stroke="#000" stroke-width="3.6"/>
<line x1="1627.58" y1="1409.4" x2="1627.58" y2="1435.4" stroke="#000" stroke-width="3.6"/>
<text transform="translate(1627.58,1492.4) scale(1.08,1)" text-anchor="middle" font-size="48">0.07</text>
<text transform="translate(1633.9,853.8) scale(1.035,1)" text-anchor="end" font-weight="bold" font-size="54">Zn</text>
<text transform="translate(1651,915.2)" text-anchor="end" textLength="322" lengthAdjust="spacingAndGlyphs" font-size="49" fill="#000">Jan: R<tspan font-size="31" dy="-14">2</tspan><tspan dy="17"> =</tspan><tspan dy="-3"> <tspan dy="3">-</tspan><tspan dy="-3">0.003</tspan></tspan></text>
<text transform="translate(1651.5,974.3)" text-anchor="end" textLength="322" lengthAdjust="spacingAndGlyphs" font-size="49" fill="#6B6B6B">July: R<tspan font-size="31" dy="-14">2</tspan><tspan dy="17"> =</tspan><tspan dy="-3"> 0.018</tspan></text>
<ellipse cx="2174.5" cy="833.9" rx="9.3" ry="8.9" fill="#EE0000"/>
<ellipse cx="2174.5" cy="855.2" rx="9.3" ry="8.9" fill="#EE0000"/>
<ellipse cx="2174.5" cy="914.3" rx="9.3" ry="8.9" fill="#EE0000"/>
<ellipse cx="2174.5" cy="959.6" rx="9.3" ry="8.9" fill="#EE0000"/>
<ellipse cx="2174.5" cy="999.4" rx="9.3" ry="8.9" fill="#EE0000"/>
<ellipse cx="2174.5" cy="1032.1" rx="9.3" ry="8.9" fill="#EE0000"/>
<ellipse cx="2174.5" cy="1053.2" rx="9.3" ry="8.9" fill="#EE0000"/>
<ellipse cx="2174.5" cy="1073.9" rx="9.3" ry="8.9" fill="#EE0000"/>
<ellipse cx="2174.5" cy="1153.5" rx="9.3" ry="8.9" fill="#EE0000"/>
<ellipse cx="2174.5" cy="1286.4" rx="9.3" ry="8.9" fill="#EE0000"/>
<ellipse cx="2269" cy="1048.3" rx="9.3" ry="8.9" fill="#00008B"/>
<ellipse cx="2269" cy="1067" rx="9.3" ry="8.9" fill="#00008B"/>
<ellipse cx="2269" cy="1098.1" rx="9.3" ry="8.9" fill="#00008B"/>
<ellipse cx="2269" cy="1115.4" rx="9.3" ry="8.9" fill="#00008B"/>
<ellipse cx="2269" cy="1143.9" rx="9.3" ry="8.9" fill="#00008B"/>
<ellipse cx="2269" cy="1191.8" rx="9.3" ry="8.9" fill="#00008B"/>
<ellipse cx="2269" cy="1223.3" rx="9.3" ry="8.9" fill="#00008B"/>
<ellipse cx="2269" cy="1240" rx="9.3" ry="8.9" fill="#00008B"/>
<ellipse cx="2269" cy="1280.3" rx="9.3" ry="8.9" fill="#00008B"/>
<ellipse cx="2259.2" cy="1210.1" rx="9.3" ry="8.9" fill="#00BFFF"/>
<ellipse cx="2259.2" cy="1241.7" rx="9.3" ry="8.9" fill="#00BFFF"/>
<ellipse cx="2259.2" cy="1250.8" rx="9.3" ry="8.9" fill="#00BFFF"/>
<ellipse cx="2259.2" cy="1305.8" rx="9.3" ry="8.9" fill="#00BFFF"/>
<ellipse cx="2259.2" cy="1316" rx="9.3" ry="8.9" fill="#00BFFF"/>
<ellipse cx="2259.2" cy="1366.8" rx="9.3" ry="8.9" fill="#00BFFF"/>
<ellipse cx="2259.2" cy="1387.2" rx="9.3" ry="8.9" fill="#00BFFF"/>
<ellipse cx="2462.8" cy="960" rx="9.3" ry="8.9" fill="#0A8A0A"/>
<ellipse cx="2462.8" cy="1047.6" rx="9.3" ry="8.9" fill="#0A8A0A"/>
<ellipse cx="2462.8" cy="1098.5" rx="9.3" ry="8.9" fill="#0A8A0A"/>
<ellipse cx="2462.8" cy="1108.7" rx="9.3" ry="8.9" fill="#0A8A0A"/>
<ellipse cx="2462.8" cy="1121" rx="9.3" ry="8.9" fill="#0A8A0A"/>
<ellipse cx="2462.8" cy="1149.5" rx="9.3" ry="8.9" fill="#0A8A0A"/>
<ellipse cx="2462.8" cy="1171.9" rx="9.3" ry="8.9" fill="#0A8A0A"/>
<ellipse cx="2462.8" cy="1239.1" rx="9.3" ry="8.9" fill="#0A8A0A"/>
<polygon points="1848.4,830.4 1860.4,850 1836.4,850" fill="#EE0000"/>
<polygon points="1848.4,834.5 1860.4,854.1 1836.4,854.1" fill="#EE0000"/>
<polygon points="1848.4,979.1 1860.4,998.7 1836.4,998.7" fill="#EE0000"/>
<polygon points="1848.4,1060.6 1860.4,1080.2 1836.4,1080.2" fill="#EE0000"/>
<polygon points="1848.4,1085 1860.4,1104.6 1836.4,1104.6" fill="#EE0000"/>
<polygon points="1848.4,1195.8 1860.4,1215.4 1836.4,1215.4" fill="#EE0000"/>
<polygon points="1848.4,1228.4 1860.4,1248 1836.4,1248" fill="#EE0000"/>
<polygon points="2231.8,810.7 2243.8,830.3 2219.8,830.3" fill="#00008B"/>
<polygon points="2231.8,906.2 2243.8,925.8 2219.8,925.8" fill="#00008B"/>
<polygon points="2231.8,961.4 2243.8,981 2219.8,981" fill="#00008B"/>
<polygon points="2231.8,996.9 2243.8,1016.5 2219.8,1016.5" fill="#00008B"/>
<polygon points="2231.8,1004.7 2243.8,1024.3 2219.8,1024.3" fill="#00008B"/>
<polygon points="2231.8,1028.4 2243.8,1048 2219.8,1048" fill="#00008B"/>
<polygon points="2231.8,1064.8 2243.8,1084.4 2219.8,1084.4" fill="#00008B"/>
<polygon points="2231.8,1071.7 2243.8,1091.3 2219.8,1091.3" fill="#00008B"/>
<polygon points="2231.8,1129.1 2243.8,1148.7 2219.8,1148.7" fill="#00008B"/>
<polygon points="2231.8,1159.6 2243.8,1179.2 2219.8,1179.2" fill="#00008B"/>
<polygon points="2186.3,1060.9 2198.3,1080.5 2174.3,1080.5" fill="#0A8A0A"/>
<polygon points="2186.3,1074.7 2198.3,1094.3 2174.3,1094.3" fill="#0A8A0A"/>
<polygon points="2186.3,1144.4 2198.3,1164 2174.3,1164" fill="#0A8A0A"/>
<polygon points="2186.3,1196.9 2198.3,1216.5 2174.3,1216.5" fill="#0A8A0A"/>
<polygon points="2186.3,1254.3 2198.3,1273.9 2174.3,1273.9" fill="#0A8A0A"/>
<polygon points="2186.3,1267.5 2198.3,1287.1 2174.3,1287.1" fill="#0A8A0A"/>
<polygon points="2186.3,1294 2198.3,1313.6 2174.3,1313.6" fill="#0A8A0A"/>
<polygon points="2186.3,1336.7 2198.3,1356.3 2174.3,1356.3" fill="#0A8A0A"/>
<polygon points="2279.3,1039.2 2291.3,1058.8 2267.3,1058.8" fill="#00BFFF"/>
<polygon points="2279.3,1064.8 2291.3,1084.4 2267.3,1084.4" fill="#00BFFF"/>
<polygon points="2279.3,1074.7 2291.3,1094.3 2267.3,1094.3" fill="#00BFFF"/>
<polygon points="2279.3,1186.1 2291.3,1205.7 2267.3,1205.7" fill="#00BFFF"/>
<polygon points="2279.3,1237 2291.3,1256.6 2267.3,1256.6" fill="#00BFFF"/>
<polygon points="2279.3,1257.4 2291.3,1277 2267.3,1277" fill="#00BFFF"/>
<polygon points="2279.3,1284.8 2291.3,1304.4 2267.3,1304.4" fill="#00BFFF"/>
<polygon points="2279.3,1296.1 2291.3,1315.7 2267.3,1315.7" fill="#00BFFF"/>
<line x1="1847.6" y1="1015" x2="2280.3" y2="1159.2" stroke="#A5A5A5" stroke-width="6.0" stroke-linecap="round"/>
<line x1="2173.4" y1="1136.8" x2="2462.8" y2="1166.6" stroke="#000" stroke-width="5.0" stroke-linecap="round"/>
<rect x="1824.3" y="801" width="663.1" height="608.4" fill="none" stroke="#000" stroke-width="3.6"/>
<line x1="1798.3" y1="876.5" x2="1824.3" y2="876.5" stroke="#000" stroke-width="3.6"/>
<text transform="translate(1765.3,876.5) scale(1.08,1) rotate(-90)" text-anchor="middle" font-size="48">0.00012</text>
<line x1="1798.3" y1="986.3" x2="1824.3" y2="986.3" stroke="#000" stroke-width="3.6"/>
<line x1="1798.3" y1="1096.1" x2="1824.3" y2="1096.1" stroke="#000" stroke-width="3.6"/>
<text transform="translate(1765.3,1096.1) scale(1.08,1) rotate(-90)" text-anchor="middle" font-size="48">0.00008</text>
<line x1="1798.3" y1="1205.9" x2="1824.3" y2="1205.9" stroke="#000" stroke-width="3.6"/>
<line x1="1798.3" y1="1315.7" x2="1824.3" y2="1315.7" stroke="#000" stroke-width="3.6"/>
<text transform="translate(1765.3,1315.7) scale(1.08,1) rotate(-90)" text-anchor="middle" font-size="48">0.00004</text>
<line x1="1859" y1="1409.4" x2="1859" y2="1435.4" stroke="#000" stroke-width="3.6"/>
<text transform="translate(1859,1492.4) scale(1.08,1)" text-anchor="middle" font-size="48">3e–04</text>
<line x1="2021.6" y1="1409.4" x2="2021.6" y2="1435.4" stroke="#000" stroke-width="3.6"/>
<line x1="2184.2" y1="1409.4" x2="2184.2" y2="1435.4" stroke="#000" stroke-width="3.6"/>
<text transform="translate(2184.2,1492.4) scale(1.08,1)" text-anchor="middle" font-size="48">5e–04</text>
<line x1="2346.8" y1="1409.4" x2="2346.8" y2="1435.4" stroke="#000" stroke-width="3.6"/>
<text transform="translate(2429.7,852.5) scale(1.035,1)" text-anchor="end" font-weight="bold" font-size="54">Cd</text>
<text transform="translate(2455.5,900.9)" text-anchor="end" textLength="325" lengthAdjust="spacingAndGlyphs" font-size="49" fill="#000">Jan: R<tspan font-size="31" dy="-14">2</tspan><tspan dy="17"> =</tspan><tspan dy="-3"> <tspan dy="3">-</tspan><tspan dy="-3">0.019</tspan></tspan></text>
<text transform="translate(2453.5,960)" text-anchor="end" textLength="323" lengthAdjust="spacingAndGlyphs" font-size="49" fill="#6B6B6B">July: R<tspan font-size="31" dy="-14">2</tspan><tspan dy="17"> =</tspan><tspan dy="-3"> 0.130</tspan></text>
<text transform="translate(50.5,781) scale(1.08,1) rotate(-90)" text-anchor="middle" font-weight="bold" font-size="54" textLength="1099" lengthAdjust="spacingAndGlyphs">Metal concentration (mmol/g) in mussel tissue</text>
<text x="1291" y="1563" text-anchor="middle" font-weight="bold" font-size="54" textLength="1370" lengthAdjust="spacingAndGlyphs">Metal concentration in filtered seawater samples (µmol/L)</text>
</svg></body></html>
